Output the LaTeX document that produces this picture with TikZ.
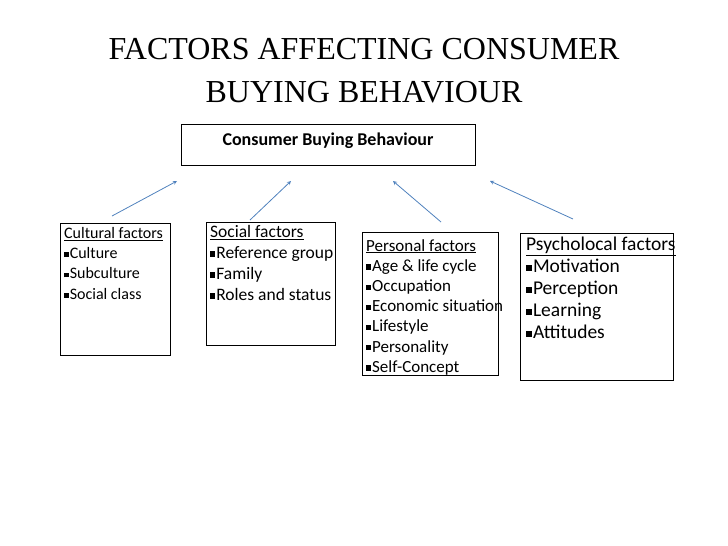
\documentclass[tikz,border=0pt]{standalone}
\usepackage{fontspec}
\setmainfont{Carlito}
\newfontfamily\titlefont{Liberation Serif}
\begin{document}
\begin{tikzpicture}[x=1pt,y=-1pt,
  fbox/.style={draw,line width=0.8pt},
  arr/.style={-stealth,draw={rgb,255:red,79;green,129;blue,189},line width=0.8pt},
  lst/.style={anchor=north west,inner sep=0pt,align=left}]
\useasboundingbox (0,0) rectangle (728,546);
\node[font=\titlefont\fontsize{32}{43}\selectfont,align=center] (title) at (364,71) {FACTORS AFFECTING CONSUMER\\BUYING BEHAVIOUR};
\node[fbox,minimum width=294,minimum height=41,anchor=north west] (top) at (181,124) {};
\node[font=\bfseries\fontsize{18}{20}\selectfont] (toplabel) at (328,141) {Consumer Buying Behaviour};
\draw[fbox] (60,223) rectangle (170,355);
\draw[fbox] (206,222) rectangle (335,345);
\draw[fbox] (362,232) rectangle (498,375);
\draw[fbox] (520,233) rectangle (673,380);
\def\bl{\raisebox{0.2ex}{\rule{0.3em}{0.3em}}\hspace{0.05em}}
\node[lst,font=\fontsize{16}{20.3}\selectfont] (cult) at (64,227) {\underline{Cultural factors}\\\bl Culture\\\bl Subculture\\\bl Social class};
\node[lst,font=\fontsize{17.5}{21}\selectfont] (soc) at (210,225) {\underline{Social factors}\\\bl Reference group\\\bl Family\\\bl Roles and status};
\node[lst,font=\fontsize{17}{20.2}\selectfont] (pers) at (366,239) {\underline{Personal factors}\\\bl Age \& life cycle\\\bl Occupation\\\bl Economic situation\\\bl Lifestyle\\\bl Personality\\\bl Self-Concept};
\node[lst,font=\fontsize{19.5}{22}\selectfont] (psy) at (526,237) {\underline{Psycholocal factors}\\\bl Motivation\\\bl Perception\\\bl Learning\\\bl Attitudes};
\coordinate (a1s) at (112,216); \coordinate (a1e) at (177,181);
\coordinate (a2s) at (250,220); \coordinate (a2e) at (291,181);
\coordinate (a3s) at (441,222); \coordinate (a3e) at (393,181);
\coordinate (a4s) at (573,219); \coordinate (a4e) at (490,181);
\draw[arr] (a1s) -- (a1e);
\draw[arr] (a2s) -- (a2e);
\draw[arr] (a3s) -- (a3e);
\draw[arr] (a4s) -- (a4e);
\end{tikzpicture}
\end{document}
